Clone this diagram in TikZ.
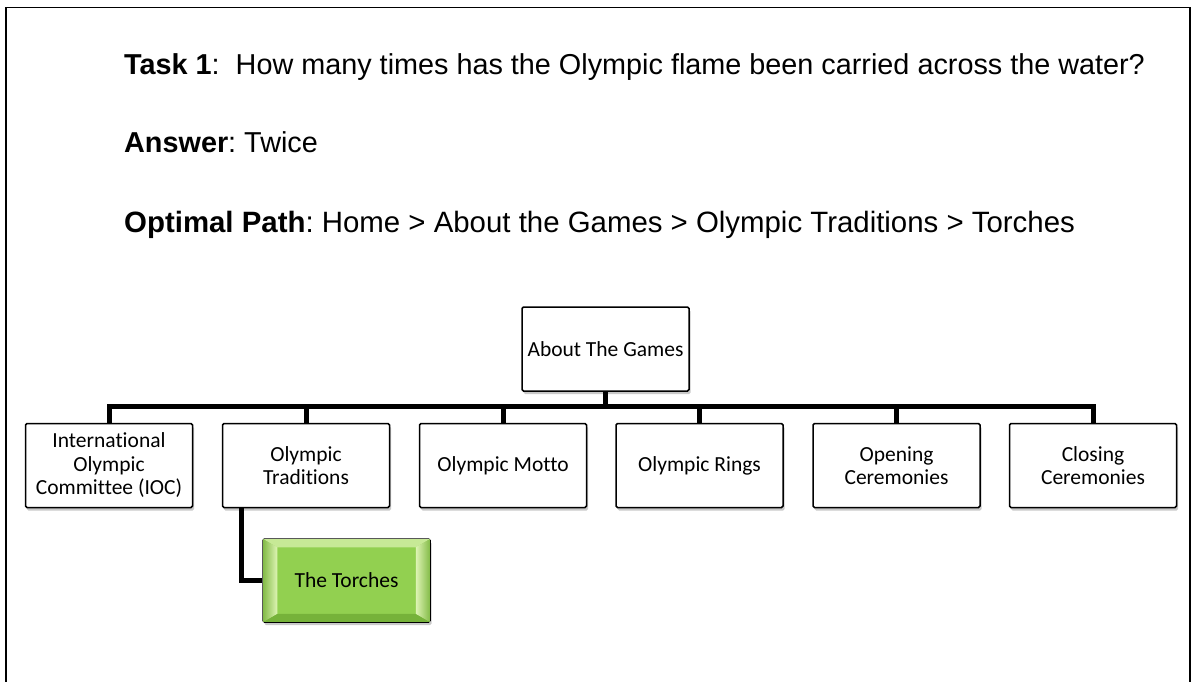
\documentclass[tikz,border=0pt]{standalone}
\usepackage{fontspec}
\setmainfont{Liberation Sans}
\newfontfamily\carlito[Ligatures=NoCommon]{Carlito}
\usetikzlibrary{shadows,calc}
\definecolor{torchgreen}{RGB}{146,208,80}
\definecolor{bevellight}{RGB}{222,244,180}
\definecolor{beveldark}{RGB}{118,178,58}
\frenchspacing
\begin{document}
\begin{tikzpicture}[x=1pt,y=-1pt,
  box/.style={draw=black, line width=1.5pt, rounded corners=1.5pt, fill=white,
    minimum width=167pt, minimum height=84pt, align=center, inner sep=2pt,
    font=\carlito\fontsize{21.5}{23.5}\selectfont,
    drop shadow={shadow xshift=1.5pt, shadow yshift=-3pt, opacity=0.3, fill=black!70}},
  conn/.style={draw=black, line width=5pt},
  headline/.style={anchor=base west, inner sep=0pt, font=\fontsize{28.8}{34}\selectfont}]
\useasboundingbox (0,0) rectangle (1196,682);
% frame
\draw[line width=1.3pt] (6,682) -- (6,7.5) -- (1190,7.5) -- (1190,682);
% header
\node[headline] (task) at (124,75) {\textbf{Task 1}:\ \ How many times has the Olympic flame been carried across the water?};
\node[headline] (answer) at (124,152) {\textbf{Answer}: Twice};
\node[headline, font=\fontsize{29.4}{34}\selectfont] (path) at (124,232) {\textbf{Optimal Path}: Home > About the Games > Olympic Traditions > Torches};
% boxes
\node[box] (top) at (605.5,349) {About The Games};
\node[box] (c1) at (109,465.5) {International\\Olympic\\Committee (IOC)};
\node[box] (c2) at (306,465.5) {Olympic\\Traditions};
\node[box] (c3) at (503,465.5) {Olympic Motto};
\node[box] (c4) at (699.5,465.5) {Olympic Rings};
\node[box] (c5) at (896.5,465.5) {Opening\\Ceremonies};
\node[box] (c6) at (1093,465.5) {Closing\\Ceremonies};
\node[box, fill=torchgreen, minimum height=83pt] (torch) at (346.5,580.5) {};
% bevel on the green box
\fill[bevellight!70!torchgreen] ($(torch.north west)+(0.8,0.8)$) -- ($(torch.north east)+(-0.8,0.8)$) -- ($(torch.north east)+(-15,9)$) -- ($(torch.north west)+(15,9)$) -- cycle;
\fill[beveldark] ($(torch.south west)+(0.8,-0.8)$) -- ($(torch.south east)+(-0.8,-0.8)$) -- ($(torch.south east)+(-15,-9)$) -- ($(torch.south west)+(15,-9)$) -- cycle;
\shade[left color=torchgreen!90!black, right color=bevellight] ($(torch.north west)+(0.8,0.8)$) -- ($(torch.north west)+(15,9)$) -- ($(torch.south west)+(15,-9)$) -- ($(torch.south west)+(0.8,-0.8)$) -- cycle;
\shade[right color=torchgreen!90!black, left color=bevellight] ($(torch.north east)+(-0.8,0.8)$) -- ($(torch.north east)+(-15,9)$) -- ($(torch.south east)+(-15,-9)$) -- ($(torch.south east)+(-0.8,-0.8)$) -- cycle;
\node[font=\carlito\fontsize{21.5}{23.5}\selectfont] (torchtext) at (torch.center) {The Torches};
% connectors
\path (c1.north) ++(0,-16) coordinate (barL);
\path (c6.north) ++(0,-16) coordinate (barR);
\draw[conn, line cap=rect] (barL) -- (barR);
\draw[conn] (top.south) -- (top.south |- barL);
\foreach \c in {c1,c2,c3,c4,c5,c6}{
  \draw[conn] (\c.north) -- (\c.north |- barL);
}
\draw[conn, line join=miter] ([xshift=-65pt]c2.south) |- (torch.west);
\end{tikzpicture}
\end{document}
